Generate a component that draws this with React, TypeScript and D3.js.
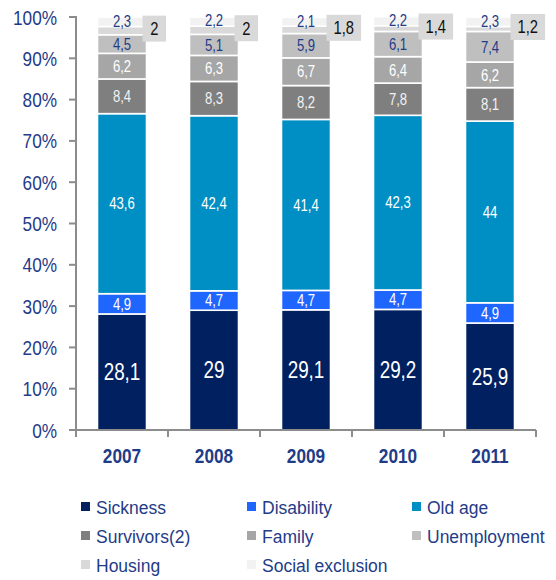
import React from "react";
import * as d3 from "d3";

const years = ["2007", "2008", "2009", "2010", "2011"];
const sickness = [28.1, 29, 29.1, 29.2, 25.9];
const disability = [4.9, 4.7, 4.7, 4.7, 4.9];
const oldAge = [43.6, 42.4, 41.4, 42.3, 44];
const survivors = [8.4, 8.3, 8.2, 7.8, 8.1];
const family = [6.2, 6.3, 6.7, 6.4, 6.2];
const unemployment = [4.5, 5.1, 5.9, 6.1, 7.4];
const housing = [2, 2, 1.8, 1.4, 1.2];
const socialExclusion = [2.3, 2.2, 2.1, 2.2, 2.3];
const yTicks = [0, 10, 20, 30, 40, 50, 60, 70, 80, 90, 100];

const seriesNames = ["Sickness", "Disability", "Old age", "Survivors(2)", "Family", "Unemployment", "Housing", "Social exclusion"];
const seriesValues = [sickness, disability, oldAge, survivors, family, unemployment, housing, socialExclusion];
const seriesColors = ["#002060", "#1f66ff", "#008fc4", "#7f7f7f", "#a6a6a6", "#bfbfbf", "#d9d9d9", "#f2f2f2"];
const labelColors = ["#ffffff", "#ffffff", "#ffffff", "#f2f2f2", "#ffffff", "#1f3c88", null, "#1f3c88"];

const NAVY = "#1f3c88";
const SANS = "'Liberation Sans', Arial, sans-serif";

const fmt = (v: number) => String(v).replace(".", ",");

function NText(props: {
  x: number;
  y: number;
  size: number;
  fill: string;
  anchor?: "start" | "middle" | "end";
  bold?: boolean;
  dy?: string;
  children: React.ReactNode;
}) {
  return (
    <g transform={`translate(${props.x},${props.y}) scale(0.82,1)`}>
      <text
        x={0}
        y={0}
        dy={props.dy}
        textAnchor={props.anchor || "middle"}
        fontFamily={SANS}
        fontWeight={props.bold ? "bold" : "normal"}
        fontSize={props.size}
        fill={props.fill}
      >
        {props.children}
      </text>
    </g>
  );
}

export default function App() {
  const W = 556, H = 580;
  const x = d3.scaleBand<string>().domain(years).range([76, 536]).paddingInner(0.467).paddingOuter(0.2335);
  const y = d3.scaleLinear().domain([0, 100]).range([430, 17]);
  const rows = years.map((yr, i) => {
    const r: any = { year: yr };
    seriesNames.forEach((n, k) => (r[n] = seriesValues[k][i]));
    return r;
  });
  const stacked = d3.stack<any>().keys(seriesNames)(rows);
  const bw = x.bandwidth();
  const gap = (x.step() - bw) / 2;
  const boundaries = years.map((yr) => (x(yr) as number) - gap).concat([x.range()[1]]);

  const legendCols = [81, 247, 412];
  const legendRows = [514, 543, 572];

  const textW = (s: string) => s.split("").reduce((a, c) => a + (c === "," ? 3.6 : 7.5), 0);

  return (
    <svg width={W} height={H} style={{ position: "absolute", left: 0, top: 0, background: "#fff" }}>
      {/* y ticks and labels */}
      {yTicks.map((t) => (
        <g key={t}>
          <line x1={69} x2={76} y1={y(t)} y2={y(t)} stroke="#8c8c8c" strokeWidth={2} />
          <NText x={57} y={y(t)} dy="0.36em" anchor="end" size={21} fill={NAVY}>
            {t}%
          </NText>
        </g>
      ))}
      {/* bars */}
      {stacked.map((s, k) => (
        <g key={s.key}>
          {s.map((d, i) => (
            <rect
              key={i}
              x={x(years[i])}
              y={y(d[1])}
              width={bw}
              height={Math.max(0, y(d[0]) - y(d[1]))}
              fill={seriesColors[k]}
              stroke="#fff"
              strokeWidth={1.6}
            />
          ))}
        </g>
      ))}
      {/* segment labels */}
      {stacked.map((s, k) =>
        labelColors[k] ? (
          <g key={"l" + s.key}>
            {s.map((d, i) => (
              <NText
                key={i}
                x={(x(years[i]) as number) + bw / 2}
                y={(y(d[0]) + y(d[1])) / 2 + (k === 7 ? -1 : 0)}
                dy="0.36em"
                size={k === 0 ? 23 : 16}
                fill={labelColors[k] as string}
              >
                {fmt(seriesValues[k][i])}
              </NText>
            ))}
          </g>
        ) : null
      )}
      {/* housing boxes */}
      {stacked[6].map((d, i) => {
        const lab = fmt(housing[i]);
        const w = textW(lab) + 16;
        const left = (x(years[i]) as number) + bw - 4;
        const cy = (y(d[0]) + y(d[1])) / 2 - 2;
        return (
          <g key={"h" + i}>
            <rect x={left} y={cy - 13} width={w} height={26} fill="#d9d9d9" />
            <NText x={left + w / 2} y={cy} dy="0.36em" size={18} fill="#111">
              {lab}
            </NText>
          </g>
        );
      })}
      {/* axes */}
      <line x1={76} x2={76} y1={y(100) - 1} y2={y(0)} stroke="#8c8c8c" strokeWidth={2} />
      <line x1={76} x2={x.range()[1]} y1={y(0)} y2={y(0)} stroke="#8c8c8c" strokeWidth={2} />
      {boundaries.map((b, i) => (
        <line key={"b" + i} x1={b} x2={b} y1={y(0)} y2={y(0) + 7} stroke="#8c8c8c" strokeWidth={2} />
      ))}
      {years.map((yr) => (
        <NText key={"x" + yr} x={(x(yr) as number) + bw / 2} y={463} size={21} bold fill={NAVY}>
          {yr}
        </NText>
      ))}
      {/* legend */}
      {seriesNames.map((n, k) => {
        const cx = legendCols[k % 3];
        const ry = legendRows[Math.floor(k / 3)];
        return (
          <g key={"lg" + n}>
            <rect x={cx} y={ry - 12} width={9} height={9} fill={seriesColors[k]} />
            <text x={cx + 15} y={ry} fontFamily={SANS} fontSize={17.5} fill={NAVY}>
              {n}
            </text>
          </g>
        );
      })}
    </svg>
  );
}
